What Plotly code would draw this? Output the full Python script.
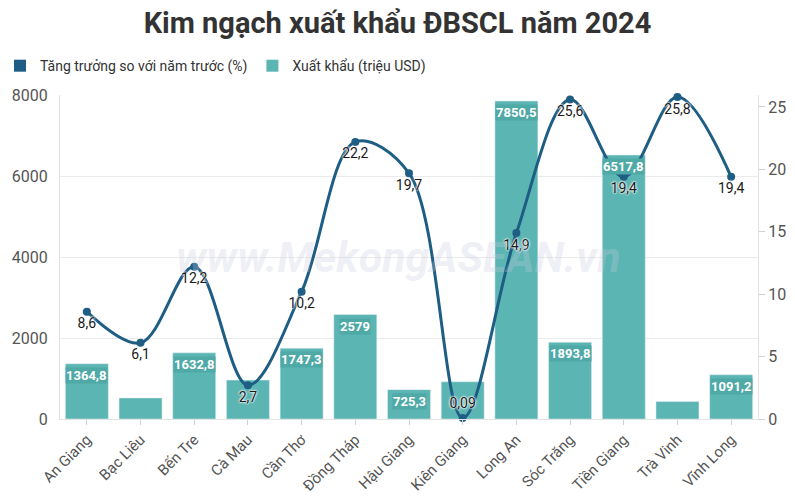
import plotly.graph_objects as go

provinces = ["An Giang", "Bạc Liêu", "Bến Tre", "Cà Mau", "Cần Thơ", "Đồng Tháp", "Hậu Giang",
             "Kiên Giang", "Long An", "Sóc Trăng", "Tiền Giang", "Trà Vinh", "Vĩnh Long"]
export_musd = [1364.8, 520, 1632.8, 960, 1747.3, 2579, 725.3, 920, 7850.5, 1893.8, 6517.8, 430, 1091.2]
growth_pct = [8.6, 6.1, 12.2, 2.7, 10.2, 22.2, 19.7, 0.09, 14.9, 25.6, 19.4, 25.8, 19.4]
bar_label_shown = [True, False, True, False, True, True, True, False, True, True, True, False, True]

BAR_C = "#5bb5b2"
LINE_C = "#1e5d84"
FONT = "Roboto"


def vn(v):
    s = ("%g" % v)
    return s.replace(".", ",")


line_text = [vn(v) for v in growth_pct]
line_textpos = ["top center" if v < 1 else "bottom center" for v in growth_pct]

fig = go.Figure()
fig.add_trace(go.Bar(
    x=provinces, y=export_musd, name="Xuất khẩu (triệu USD)",
    marker=dict(color=BAR_C), width=0.8,
    showlegend=False, hoverinfo="x+y",
))
fig.add_trace(go.Scatter(
    x=provinces, y=growth_pct, yaxis="y2", name="Tăng trưởng so với năm trước (%)",
    mode="lines+markers+text", line=dict(color=LINE_C, width=3, shape="spline", smoothing=1.0),
    marker=dict(color=LINE_C, size=8),
    text=line_text, textposition=line_textpos,
    textfont=dict(family=FONT, size=14, color="#1a1a1a",
                  shadow="0px 0px 2px white, 0px 0px 2px white, 0px 0px 3px white"),
    showlegend=False, cliponaxis=False,
))
# legend entries (rounded squares)
fig.add_trace(go.Scatter(x=[None], y=[None], mode="markers", name="Tăng trưởng so với năm trước (%)",
                         marker=dict(symbol="square", size=12, color=LINE_C)))
fig.add_trace(go.Scatter(x=[None], y=[None], mode="markers", name="Xuất khẩu (triệu USD)",
                         marker=dict(symbol="square", size=12, color=BAR_C)))

# bar value labels: boxes at the top of each bar, drawn above the line
for p, v, show in zip(provinces, export_musd, bar_label_shown):
    if show:
        fig.add_annotation(x=p, y=v, xref="x", yref="y", text="<b>%s</b>" % vn(v),
                           showarrow=False, yanchor="top", yshift=-3,
                           bgcolor="#4fa9a6", borderpad=0,
                           font=dict(family=FONT, size=13, color="white"))

fig.add_annotation(text="<b><i>www.MekongASEAN.vn</i></b>", xref="paper", yref="paper",
                   x=0.485, y=0.5, showarrow=False,
                   font=dict(family=FONT, size=43, color="rgba(200,205,225,0.3)"))

fig.update_layout(
    width=795, height=501,
    margin=dict(l=60, r=37, t=95, b=82, autoexpand=False),
    paper_bgcolor="white", plot_bgcolor="white",
    font=dict(family=FONT, color="#444"),
    title=dict(text="<b>Kim ngạch xuất khẩu ĐBSCL năm 2024</b>", x=0.5, xanchor="center",
               yref="container", y=0.955, yanchor="middle",
               font=dict(family=FONT, size=29, color="#333")),
    legend=dict(orientation="h", xref="container", yref="container", x=-0.012, y=0.9,
                xanchor="left", yanchor="top", font=dict(family=FONT, size=14, color="#333"),
                itemwidth=30, tracegroupgap=0),
    bargap=0.2,
    xaxis=dict(tickangle=-45, tickfont=dict(size=15, color="#555"), showline=True,
               linecolor="#e3e3e3", ticks="outside", tickcolor="#d0d0d0", ticklen=5,
               showgrid=False, automargin=False, range=[-0.5, len(provinces) - 0.5]),
    yaxis=dict(range=[0, 8000], dtick=2000, tickfont=dict(size=16, color="#555"),
               gridcolor="#ebebeb", showline=True, linecolor="#e3e3e3", zeroline=False,
               ticks="", ticklabelstandoff=8, automargin=False),
    yaxis2=dict(range=[0, 25.96], dtick=5, overlaying="y", side="right",
                tickfont=dict(size=16, color="#555"), showgrid=False, showline=True,
                linecolor="#e3e3e3", ticks="outside", tickcolor="#d0d0d0", ticklen=6,
                zeroline=False, automargin=False),
)

fig.write_html("out.html")
